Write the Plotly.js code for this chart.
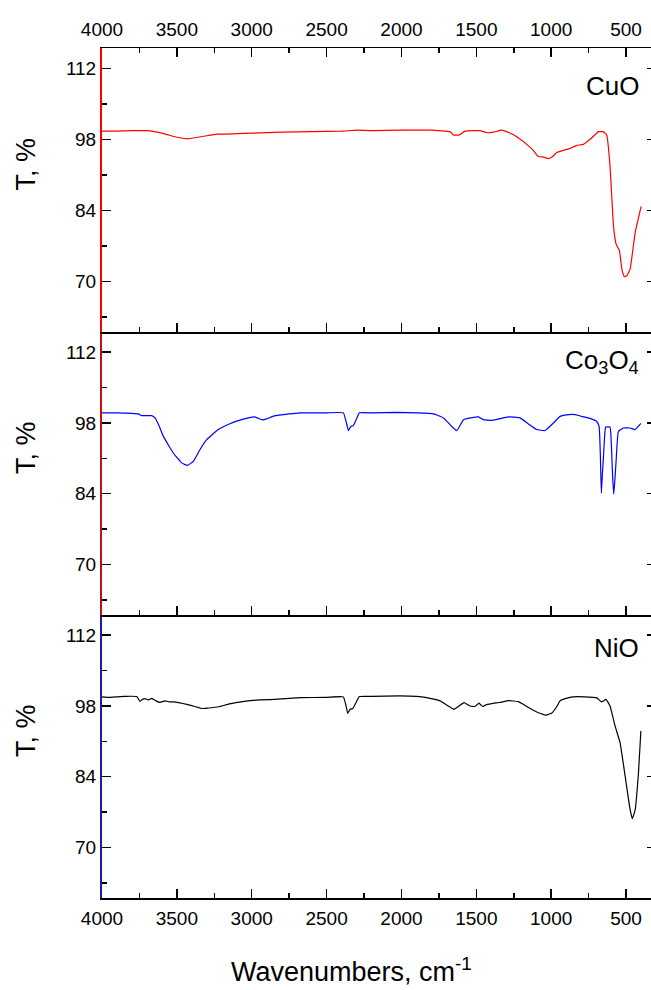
<!DOCTYPE html>
<html>
<head>
<meta charset="utf-8">
<script src="https://cdn.plot.ly/plotly-3.0.1.min.js"></script>
<style>
html,body{margin:0;padding:0;overflow:hidden;background:#fff;}
#chart{width:660px;height:990px;}
</style>
</head>
<body>
<div id="chart"></div>
<script>
// ---- data ----
var cuoWn = [4000,3900,3800,3700,3650,3600,3550,3480,3430,3380,3300,3230,3100,3000,2800,2600,2400,2300,2200,2000,1800,1709,1670,1653,1613,1575,1520,1475,1430,1386,1330,1280,1230,1163,1120,1086,1050,1018,990,963,920,874,829,785,740,700,685,652,629,607,584,566,544,528,511,495,473,439,399];
var cuoT  = [99.6,99.6,99.7,99.7,99.5,99.2,98.8,98.3,98.1,98.3,98.7,99.0,99.1,99.2,99.4,99.5,99.6,99.8,99.7,99.8,99.8,99.6,99.4,98.85,98.85,99.6,99.7,99.7,99.3,99.4,99.8,99.3,98.5,97.0,95.8,94.6,94.5,94.2,94.6,95.4,95.8,96.2,96.8,97.0,98.0,99.1,99.5,99.5,98.85,92.7,80.9,77.3,76.0,72.4,70.9,71.1,72.4,79.6,84.75];

var coWn = [4000,3900,3800,3757,3735,3668,3646,3620,3590,3524,3468,3430,3390,3346,3301,3223,3150,3050,2980,2930,2900,2850,2750,2677,2500,2388,2370,2354,2339,2321,2300,2281,2200,2031,1900,1786,1719,1664,1630,1586,1563,1486,1452,1397,1341,1286,1208,1152,1097,1041,985,941,900,840,796,740,696,680,672,665,658,652,644,636,607,600,596,589,582,574,566,551,518,473,439,401];
var coT  = [100,100,99.9,99.8,99.45,99.45,99.0,97.5,95.35,92.06,90.1,89.6,90.4,92.7,94.7,96.7,97.8,98.8,99.2,98.6,98.8,99.4,99.8,100,100,100,98.3,96.5,97.3,97.5,98.8,100,100,100.1,100,99.8,99.0,97.3,96.5,98.65,98.85,99.2,98.65,98.5,98.85,99.2,99.0,97.8,96.7,96.5,98.0,99.3,99.6,99.65,99.3,98.9,98.3,97.3,92,84.1,88,90.7,95,97.2,97.2,95,92.1,87,83.9,87,90.7,96.3,97.0,97.0,96.7,97.9];

var nioWn = [4000,3950,3902,3850,3768,3746,3730,3713,3690,3668,3640,3613,3580,3550,3524,3480,3434,3380,3335,3290,3257,3212,3150,3050,2950,2850,2750,2677,2500,2388,2370,2359,2343,2325,2300,2281,2200,2009,1900,1832,1742,1687,1649,1620,1582,1560,1542,1509,1482,1458,1430,1408,1370,1341,1286,1219,1152,1097,1035,996,960,941,900,852,780,696,663,634,607,573,540,506,473,458,439,417,401];
var nioT  = [99.8,99.7,99.8,99.9,99.86,98.9,99.3,99.45,99.2,99.5,99.0,98.7,99.0,98.8,98.8,98.6,98.3,97.9,97.5,97.6,97.7,97.9,98.4,98.9,99.2,99.3,99.5,99.65,99.7,99.8,98.0,96.55,97.35,97.5,98.9,99.86,99.9,100,99.9,99.65,99.0,98.0,97.35,97.9,98.65,98.3,98.0,97.9,98.55,97.9,98.3,98.4,98.6,98.7,99.05,98.85,97.7,96.8,96.2,96.6,98.0,99.0,99.5,99.8,99.8,99.6,98.8,99.3,98.0,94.0,90.75,84.1,77.5,75.7,77.5,84.8,93.05];

var sampleNames = ['CuO', 'Co<sub>3</sub>O<sub>4</sub>', 'NiO'];
var yTickVals = [70, 84, 98, 112];
var xTickVals = [4000, 3500, 3000, 2500, 2000, 1500, 1000, 500];
var yTitle = 'T, %';
var xTitle = 'Wavenumbers, cm<sup>-1</sup>';

// ---- styles ----
var FONT = 'Liberation Sans, Arial, Helvetica, sans-serif';
var H = 850;
var d3 = [0, 283/H], d2 = [283/H, 566/H], d1 = [566/H, 1];

function lineStyle(c) { return {color: c, width: 1.2, shape: 'spline', smoothing: 0.35}; }
var traces = [
  {x: cuoWn, y: cuoT, xaxis: 'x3', yaxis: 'y', mode: 'lines', line: lineStyle('#ff0000')},
  {x: coWn,  y: coT,  xaxis: 'x2', yaxis: 'y2', mode: 'lines', line: lineStyle('#0000ff')},
  {x: nioWn, y: nioT, xaxis: 'x',  yaxis: 'y3', mode: 'lines', line: lineStyle('#000000')}
];

function xAx(extra) {
  var a = {
    range: [4000, 300], tickvals: xTickVals, ticks: 'inside', ticklen: 9, tickwidth: 1.5,
    tickcolor: '#000', showline: true, linecolor: '#000', linewidth: 1.5,
    showgrid: false, zeroline: false,
    minor: {ticks: 'inside', ticklen: 5, tickwidth: 1.5, tickcolor: '#000',
            tickvals: [3750, 3250, 2750, 2250, 1750, 1250, 750], showgrid: false},
    tickfont: {family: FONT, size: 19, color: '#000'}
  };
  for (var k in extra) a[k] = extra[k];
  return a;
}
function yAx(extra) {
  var a = {
    range: [60, 116], tickvals: yTickVals, ticks: 'inside', ticklen: 9, tickwidth: 1.5,
    tickcolor: '#000', showline: true, linewidth: 2, mirror: 'ticks',
    showgrid: false, zeroline: false,
    minor: {ticks: 'inside', ticklen: 5, tickwidth: 1.5, tickcolor: '#000', tickvals: [63, 77, 91, 105], showgrid: false},
    tickfont: {family: FONT, size: 19, color: '#000'}
  };
  for (var k in extra) a[k] = extra[k];
  return a;
}

var annotations = [];
var yrefs = ['y domain', 'y2 domain', 'y3 domain'];
var xrefs = ['x3 domain', 'x2 domain', 'x domain'];
var nameY = [0.866, 0.897, 0.885];
for (var i = 0; i < 3; i++) {
  annotations.push({text: sampleNames[i], xref: xrefs[i], yref: yrefs[i], x: 0.973, y: nameY[i],
    xanchor: 'right', yanchor: 'middle', showarrow: false, font: {family: FONT, size: 26, color: '#000'}});
  annotations.push({text: yTitle, xref: xrefs[i], yref: yrefs[i], x: 0, y: 0.59, xshift: -76,
    textangle: -90, xanchor: 'center', yanchor: 'middle', showarrow: false,
    font: {family: FONT, size: 27, color: '#000'}});
}
annotations.push({text: xTitle, xref: 'paper', yref: 'paper', x: (351-102)/554, y: 0, yshift: -72,
  xanchor: 'center', yanchor: 'middle', showarrow: false, font: {family: FONT, size: 27, color: '#000'}});

var layout = {
  width: 660, height: 990,
  margin: {l: 102, r: 4, t: 48, b: 92},
  paper_bgcolor: '#fff', plot_bgcolor: '#fff',
  showlegend: false,
  xaxis: xAx({anchor: 'y3', domain: [0, 1], ticklabelstandoff: 3}),
  xaxis2: xAx({anchor: 'y2', domain: [0, 1], matches: 'x', showticklabels: false}),
  xaxis3: xAx({anchor: 'y', domain: [0, 1], matches: 'x', side: 'top', mirror: 'ticks', ticklabelstandoff: 3}),
  yaxis: yAx({anchor: 'x3', domain: d1, linecolor: '#ff0000'}),
  yaxis2: yAx({anchor: 'x2', domain: d2, linecolor: '#c41010'}),
  yaxis3: yAx({anchor: 'x', domain: d3, linecolor: '#1c1ca8'}),
  annotations: annotations
};

Plotly.newPlot('chart', traces, layout, {displayModeBar: false, staticPlot: true});
</script>
</body>
</html>
